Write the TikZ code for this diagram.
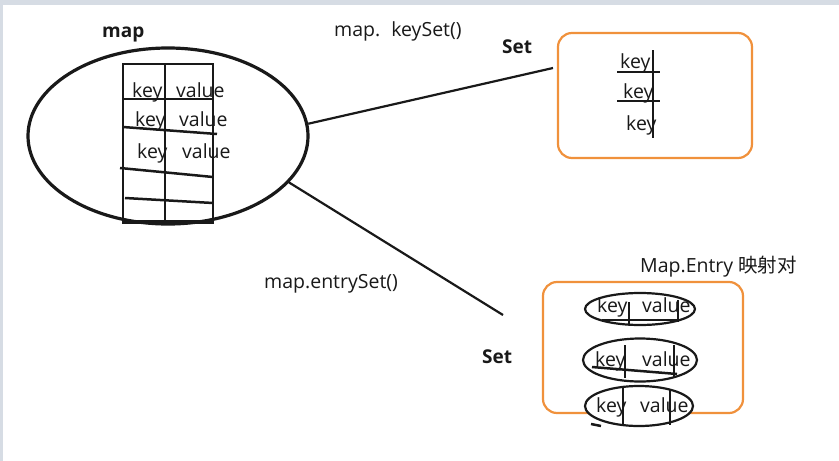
\documentclass[tikz,border=0pt]{standalone}
\usepackage{fontspec}
\setmainfont{Open Sans}
\newfontfamily\cjk{Noto Sans CJK SC}
\usetikzlibrary{shapes.geometric}
\definecolor{setorange}{RGB}{240,145,60}
\definecolor{framegray}{RGB}{214,220,228}
\definecolor{ink}{RGB}{25,25,25}
\begin{document}
\begin{tikzpicture}[x=1pt,y=-1pt,
  txt/.style={inner sep=0pt, anchor=base west, text=ink, font=\fontsize{19.5}{22}\selectfont},
  boldtxt/.style={inner sep=0pt, anchor=base west, text=ink, font=\fontsize{19}{22}\selectfont\bfseries},
  conn/.style={line width=2.2pt, draw=ink},
  obox/.style={draw=setorange, line width=2.2pt, rounded corners=14pt, inner sep=0pt},
  pair/.style={draw=ink, ellipse, line width=2.2pt, fill=white, inner sep=0pt},
  rule/.style={line width=2.5pt, draw=ink}]
\useasboundingbox (0,0) rectangle (839,461);
\fill[white] (0,0) rectangle (839,461);
\fill[framegray] (0,0) rectangle (839,5);
\fill[framegray] (0,0) rectangle (3,461);

% map ellipse and table
\node[draw=ink, ellipse, line width=3.2pt, minimum width=280pt, minimum height=176pt, inner sep=0pt] (map) at (168,136) {};
\draw[rule] (123,64) rectangle (213,223);
\draw[rule] (165,64) -- (165,223);
\draw[rule] (123,99) -- (213,99);
\draw[rule] (123,127) -- (217,134);
\draw[rule] (120,168) -- (213,177);
\draw[rule] (125,198) -- (213,203);
\draw[line width=3.5pt, draw=ink] (123,222) -- (213,222);
\node[txt] (mk1) at (132,97) {key};
\node[txt] (mv1) at (176,97) {value};
\node[txt] (mk2) at (135,126) {key};
\node[txt] (mv2) at (179,126) {value};
\node[txt] (mk3) at (137,158) {key};
\node[txt] (mv3) at (182,158) {value};
\node[boldtxt] (maplabel) at (102,37) {map};

% keySet
\node[obox, minimum width=194pt, minimum height=125pt] (set1) at (655,95.5) {};
\node[txt] (sk1) at (620,68) {key};
\node[txt] (sk2) at (623,98) {key};
\node[txt] (sk3) at (626,130) {key};
\draw[rule] (617,72) -- (660,72);
\draw[rule] (617,101) -- (660,101);
\draw[rule] (653,50) -- (653,138);
\node[txt] (keyset) at (334,36) {map.\hspace{11pt}keySet()};
\node[boldtxt] (setlabel1) at (502,53) {Set};
\coordinate (k1end) at (553,68);
\draw[conn] (map.5) -- (k1end);

% entrySet
\node[obox, minimum width=200pt, minimum height=131pt] (set2) at (643,347.5) {};
\node[pair, minimum width=110pt, minimum height=32pt] (e1) at (640,309) {};
\node[pair, minimum width=114pt, minimum height=43pt] (e2) at (640,360) {};
\node[pair, minimum width=108pt, minimum height=40pt] (e3) at (639,406) {};
\draw[rule] (629,302) -- (629,325);
\draw[rule] (602,320) -- (678,320);
\draw[rule] (678,300) -- (678,322);
\draw[rule] (625,345) -- (625,378);
\draw[rule] (592,367) -- (677,374);
\draw[rule] (674,345) -- (674,377);
\draw[rule] (623,388) -- (623,425);
\draw[rule] (670,390) -- (670,425);
\draw[rule] (591,424) -- (601,426);
\node[txt] (ek1) at (597,312) {key};
\node[txt] (ev1) at (642,312) {value};
\node[txt] (ek2) at (595,366) {key};
\node[txt] (ev2) at (642,366) {value};
\node[txt] (ek3) at (596,412) {key};
\node[txt] (ev3) at (640,412) {value};
\node[txt] (entrylabel) at (640,272) {Map.Entry {\cjk 映射对}};
\node[txt] (entryset) at (264,288) {map.entrySet()};
\node[boldtxt] (setlabel2) at (482,363) {Set};
\coordinate (k2end) at (503,315);
\draw[conn] (map.-21) -- (k2end);
\end{tikzpicture}
\end{document}
